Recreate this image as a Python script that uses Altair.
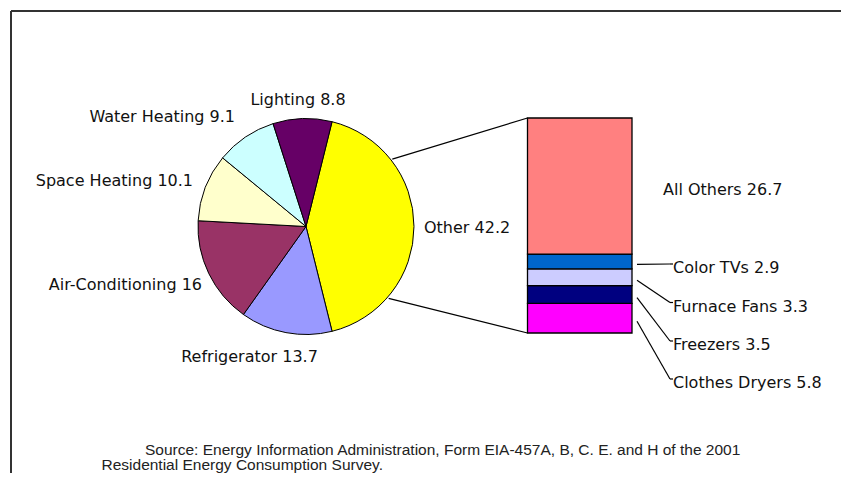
import math
import altair as alt
import pandas as pd

# ---------------- data ----------------
PIE_CATS = ["Other", "Refrigerator", "Air-Conditioning", "Space Heating", "Water Heating", "Lighting"]
PIE_VALS = [42.2, 13.7, 16, 10.1, 9.1, 8.8]
PIE_COLORS = ["#FFFF00", "#9999FF", "#993366", "#FFFFCC", "#CCFFFF", "#660066"]

BAR_CATS = ["Clothes Dryers", "Freezers", "Furnace Fans", "Color TVs", "All Others"]
BAR_VALS = [5.8, 3.5, 3.3, 2.9, 26.7]
BAR_COLORS = ["#FF00FF", "#000080", "#CCCCFF", "#0066CC", "#FF8080"]

SOURCE_LINES = [
    "Source:  Energy Information Administration, Form EIA-457A, B, C. E. and H of the 2001",
    "Residential Energy Consumption Survey.",
]

# ---------------- layout (page pixels) ----------------
M = 8
W, H = 833, 465
PIE_CX, PIE_CY, PIE_R = 306, 226.5, 108
BAR_X0, BAR_X1, BAR_TOP, BAR_BOTTOM = 527.5, 632, 118, 333
CONN_ANGLES = [52, 131]  # degrees clockwise from 12 o'clock where connectors leave the pie
PIE_LABEL_POS = {  # x, baseline, align
    "Other": (424, 233, "left"),
    "Refrigerator": (249.5, 361.5, "center"),
    "Air-Conditioning": (202, 290, "right"),
    "Space Heating": (193, 186, "right"),
    "Water Heating": (235, 121.5, "right"),
    "Lighting": (298, 105, "center"),
}
BAR_LABEL_POS = {
    "All Others": (663, 195),
    "Color TVs": (673, 273),
    "Furnace Fans": (673, 311.5),
    "Freezers": (673, 350),
    "Clothes Dryers": (673, 388),
}
LEADER_X0 = BAR_X1 + 5
LEADER_X1 = 670
SOURCE_POS = [(145, 455), (101.5, 470)]
LABEL_FONT = "DejaVu Sans"
TEXT_COLOR = "#111111"


def fmt(v):
    return f"{v:g}"


PIE_TOTAL = sum(PIE_VALS)
BAR_TOTAL = sum(BAR_VALS)

# ---------------- pie ----------------
pie_df = pd.DataFrame({"cat": PIE_CATS, "value": PIE_VALS, "color": PIE_COLORS,
                       "idx": list(range(len(PIE_CATS)))})
a0 = math.pi / 2 - (PIE_VALS[0] / PIE_TOTAL) * math.pi
pie = alt.Chart(pie_df).mark_arc(outerRadius=PIE_R, stroke="black", strokeWidth=1).encode(
    theta=alt.Theta("value:Q", stack=True,
                    scale=alt.Scale(domain=[0, PIE_TOTAL], range=[a0, a0 + 2 * math.pi])),
    color=alt.Color("color:N", scale=None),
    order=alt.Order("idx:Q", sort="ascending"),
    x=alt.value(PIE_CX - M),
    y=alt.value(PIE_CY - M),
)

# ---------------- bar (stacked column) ----------------
bar_df = pd.DataFrame({"cat": BAR_CATS, "value": BAR_VALS, "color": BAR_COLORS,
                       "idx": list(range(len(BAR_CATS)))})
bar_df["end"] = bar_df["value"].cumsum()
bar_df["start"] = bar_df["end"] - bar_df["value"]
bar = alt.Chart(bar_df).mark_rect(stroke="black", strokeWidth=1.3).encode(
    x=alt.value(BAR_X0 - M),
    x2=alt.value(BAR_X1 - M),
    y=alt.Y("start:Q", axis=None,
            scale=alt.Scale(domain=[0, BAR_TOTAL], range=[BAR_BOTTOM - M, BAR_TOP - M])),
    y2="end:Q",
    color=alt.Color("color:N", scale=None),
)


def bar_px(v):
    return BAR_BOTTOM - v / BAR_TOTAL * (BAR_BOTTOM - BAR_TOP)


# ---------------- connectors pie -> bar ----------------
conn_rows = []
for ang, corner_y in zip(CONN_ANGLES, [BAR_TOP, BAR_BOTTOM]):
    r = PIE_R + 1.5
    px = PIE_CX + r * math.sin(math.radians(ang))
    py = PIE_CY - r * math.cos(math.radians(ang))
    conn_rows.append({"x": px - M, "y": py - M, "x2": BAR_X0 - M, "y2": corner_y - M})
conn_df = pd.DataFrame(conn_rows)

# ---------------- leaders bar -> labels ----------------
lead_rows = []
cum = 0.0
for cat, v in zip(BAR_CATS, BAR_VALS):
    mid = cum + v / 2
    cum += v
    if cat == "All Others":
        continue
    lx, lb = BAR_LABEL_POS[cat]
    y_start = bar_px(mid) + 3
    y_end = lb - 9
    lead_rows.append({"x": LEADER_X0 - M, "y": y_start - M, "x2": LEADER_X1 - M, "y2": y_end - M})
    lead_rows.append({"x": LEADER_X1 - M, "y": y_end - M, "x2": lx - M, "y2": y_end - M})
lead_df = pd.DataFrame(lead_rows)

lines_df = pd.concat([conn_df, lead_df], ignore_index=True)
lines = alt.Chart(lines_df).mark_rule(color="black", strokeWidth=1.2).encode(
    x=alt.X("x:Q", scale=None), y=alt.Y("y:Q", scale=None),
    x2="x2:Q", y2="y2:Q",
)

# ---------------- labels ----------------
lab_rows = []
for cat, v in zip(PIE_CATS, PIE_VALS):
    x, b, al = PIE_LABEL_POS[cat]
    lab_rows.append({"text": f"{cat} {fmt(v)}", "x": x - M, "y": b - M, "align": al})
for cat, v in zip(BAR_CATS, BAR_VALS):
    x, b = BAR_LABEL_POS[cat]
    lab_rows.append({"text": f"{cat} {fmt(v)}", "x": x - M, "y": b - M, "align": "left"})
lab_df = pd.DataFrame(lab_rows)

label_layers = []
for al in ["left", "center", "right"]:
    label_layers.append(
        alt.Chart(lab_df).transform_filter(alt.datum.align == al).mark_text(
            align=al, baseline="alphabetic", font=LABEL_FONT, fontSize=16, color=TEXT_COLOR
        ).encode(x=alt.X("x:Q", scale=None), y=alt.Y("y:Q", scale=None), text="text:N")
    )

src_df = pd.DataFrame({"text": SOURCE_LINES,
                       "x": [p[0] - M for p in SOURCE_POS],
                       "y": [p[1] - M for p in SOURCE_POS]})
source = alt.Chart(src_df).mark_text(
    align="left", baseline="alphabetic", font="Liberation Sans", fontSize=15.5, color="#222222"
).encode(x=alt.X("x:Q", scale=None), y=alt.Y("y:Q", scale=None), text="text:N")

# ---------------- frame ----------------
frame_top = alt.Chart(pd.DataFrame({"k": [0]})).mark_rule(color="#333333", strokeWidth=2).encode(
    x=alt.value(3), x2=alt.value(W), y=alt.value(3))
frame_left = alt.Chart(pd.DataFrame({"k": [0]})).mark_rule(color="#333333", strokeWidth=2).encode(
    x=alt.value(3), y=alt.value(3), y2=alt.value(H))

chart = alt.layer(
    frame_top, frame_left, lines, pie, bar, *label_layers, source
).properties(
    width=W, height=H, padding=0, autosize=alt.AutoSizeParams(type="none"), background="white"
).configure_view(stroke=None)

chart.save("out.html", embed_options={"renderer": "svg", "actions": False})
